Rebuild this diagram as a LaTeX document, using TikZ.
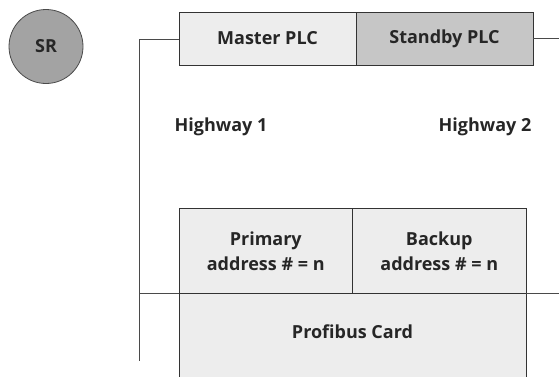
\documentclass[tikz,border=0pt]{standalone}
\usepackage{fontspec}
\setmainfont{Open Sans}[BoldFont={Open Sans Bold}]
\definecolor{linegray}{HTML}{4A4A4A}
\definecolor{boxedge}{HTML}{333333}
\definecolor{lightfill}{HTML}{EDEDED}
\definecolor{midfill}{HTML}{C6C6C6}
\definecolor{srfill}{HTML}{A3A3A3}
\tikzset{
  txt/.style={font=\bfseries\fontsize{18}{24.5}\selectfont, text=black!85},
  box/.style={draw=boxedge, line width=1pt, inner sep=0pt, outer sep=0pt, txt, align=center},
  wire/.style={draw=linegray, line width=1pt},
  lbl/.style={txt, inner sep=0pt}
}
\begin{document}
\begin{tikzpicture}[x=1pt,y=-1pt]
\useasboundingbox (0,0) rectangle (559,376);
% SR
\node[draw=linegray, line width=0.8pt, fill=srfill, circle, minimum size=74pt, inner sep=0pt, txt] (sr) at (46,46.5) {SR};
% PLC boxes
\node[box, fill=lightfill, minimum width=177pt, minimum height=53pt, anchor=north west] (master) at (179,12) {Master PLC};
\node[box, fill=midfill, minimum width=177pt, minimum height=53pt, anchor=north west] (standby) at (356,12) {Standby PLC};
% Highway labels
\node[lbl] (hw1) at (221,127) {Highway 1};
\node[lbl] (hw2) at (485,127) {Highway 2};
% Profibus card
\node[box, fill=lightfill, minimum width=347pt, minimum height=95pt, anchor=north west] (card) at (179,293) {};
\node[lbl] (cardlbl) at (352.5,332) {Profibus Card};
\node[box, fill=lightfill, minimum width=173.5pt, minimum height=85pt, anchor=north west] (primary) at (179,208.5) {Primary\\address \# = n};
\node[box, fill=lightfill, minimum width=173.5pt, minimum height=85pt, anchor=north west] (backup) at (352.5,208.5) {Backup\\address \# = n};
% Highway wires
\coordinate (h1top) at (139,39);
\coordinate (h1bot) at (139,361);
\coordinate (h1tap) at (139,293.5);
\coordinate (h2end) at (559,38.5);
\coordinate (h2bus) at (559,293.5);
\draw[wire] (master.west |- h1top) -- (h1top) -- (h1bot);
\draw[wire] (h1tap) -- (primary.south west);
\draw[wire] (standby.east |- h2end) -- (h2end);
\draw[wire] (backup.south east) -- (h2bus);
\end{tikzpicture}
\end{document}
